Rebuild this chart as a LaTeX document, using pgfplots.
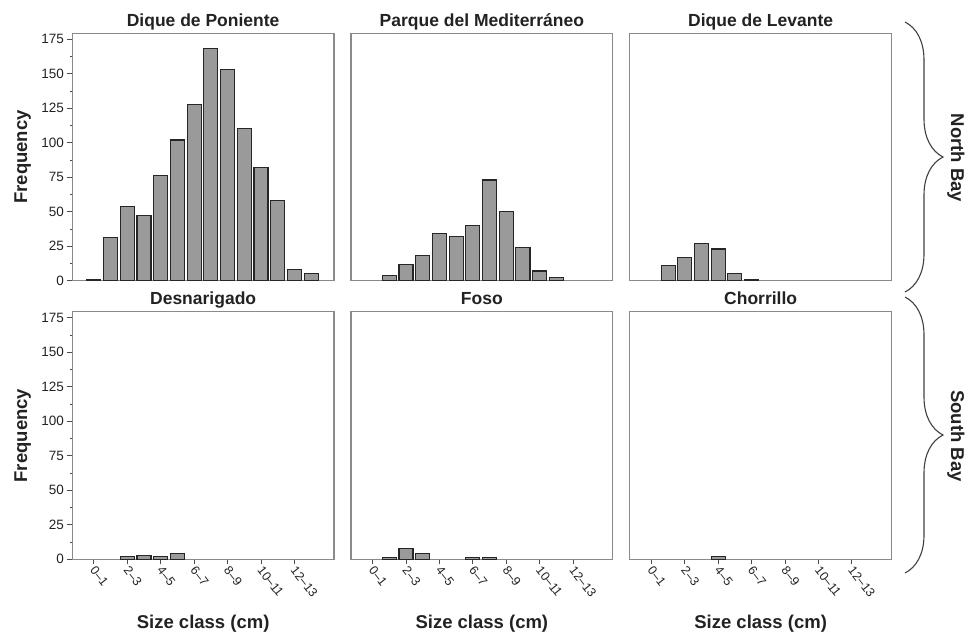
\documentclass[border=0pt]{standalone}
\usepackage{pgfplots}
\pgfplotsset{compat=1.18}
\usepackage{fontspec}
\setmainfont{Liberation Sans}
\usetikzlibrary{decorations.pathreplacing}
\definecolor{framegray}{HTML}{8A8A8A}
\definecolor{barfill}{HTML}{9A9A9A}
\definecolor{bardraw}{HTML}{262626}
\definecolor{txt}{HTML}{222222}
\pgfplotsset{
  panel/.style={
    scale only axis, width=261.7bp, height=247.4bp,
    xmin=-1.29, xmax=14.37, ymin=0, ymax=179.3,
    axis line style={draw=framegray, line width=1.1bp},
    tick pos=left, tick align=outside,
    major tick length=5bp, minor tick length=2.5bp,
    every tick/.style={draw=black!70, line width=0.9bp},
    ybar, bar width=0.84,
    /pgf/number format/assume math mode=true,
    title style={font=\bfseries\fontsize{17.5bp}{20bp}\selectfont, text=txt,
      at={(axis description cs:0.5,1)}, anchor=base, yshift=1bp},
    ylabel style={font=\bfseries\fontsize{18.5bp}{21bp}\selectfont, text=txt,
      at={(axis description cs:-0.19,0.5)}, anchor=center},
    xlabel style={font=\bfseries\fontsize{18.5bp}{21bp}\selectfont, text=txt,
      at={(axis description cs:0.5,-0.26)}, anchor=center},
    yticklabel style={font=\fontsize{13.5bp}{15bp}\selectfont, text=txt},
    xticklabel style={font=\fontsize{12.5bp}{14bp}\selectfont, text=txt,
      rotate=-52, anchor=west, xshift=-1bp, yshift=-3bp},
    xtick=\empty, ytick=\empty,
  },
  leftp/.style={ytick={0,25,...,175}, minor y tick num=1},
  bottomp/.style={xtick={0,2,...,12},
    xticklabels={0--1,2--3,4--5,6--7,8--9,10--11,12--13},
    xlabel={Size class (cm)}},
  bars/.style={fill=barfill, draw=bardraw, line width=1.1bp},
}
\begin{document}
\begin{tikzpicture}
\useasboundingbox (0,0) rectangle (968bp,-639bp);
% ---- North Bay ----
\begin{axis}[panel, leftp, at={(72.3bp,-280.7bp)}, anchor=south west,
  title={Dique de Poniente}, ylabel={Frequency}]
\addplot[bars] coordinates {(0,1) (1,31) (2,54) (3,47) (4,76) (5,102) (6,128)
  (7,168) (8,153) (9,110) (10,82) (11,58) (12,8) (13,5)};
\end{axis}
\begin{axis}[panel, at={(351bp,-280.7bp)}, anchor=south west,
  title={Parque del Mediterráneo}]
\addplot[bars] coordinates {(1,4) (2,12) (3,18) (4,34) (5,32) (6,40)
  (7,73) (8,50) (9,24) (10,7) (11,2)};
\end{axis}
\begin{axis}[panel, at={(629.8bp,-280.7bp)}, anchor=south west,
  title={Dique de Levante}]
\addplot[bars] coordinates {(1,11) (2,17) (3,27) (4,23) (5,5) (6,1)};
\end{axis}
% ---- South Bay ----
\begin{axis}[panel, leftp, bottomp, at={(72.3bp,-559.3bp)}, anchor=south west,
  title={Desnarigado}, ylabel={Frequency}]
\addplot[bars] coordinates {(2,2) (3,3) (4,2) (5,4)};
\end{axis}
\begin{axis}[panel, bottomp, at={(351bp,-559.3bp)}, anchor=south west,
  title={Foso}]
\addplot[bars] coordinates {(1,1) (2,8) (3,4) (6,1) (7,1)};
\end{axis}
\begin{axis}[panel, bottomp, at={(629.8bp,-559.3bp)}, anchor=south west,
  title={Chorrillo}]
\addplot[bars] coordinates {(4,2)};
\end{axis}
% ---- braces and bay labels ----
\draw[decorate, decoration={brace, amplitude=38bp}, line width=1.1bp, draw=black!75]
  (905bp,-22bp) -- (905bp,-292bp);
\draw[decorate, decoration={brace, amplitude=38bp}, line width=1.1bp, draw=black!75]
  (905bp,-297bp) -- (905bp,-573bp);
\node[rotate=-90, font=\bfseries\fontsize{18.5bp}{21bp}\selectfont, text=txt]
  at (956bp,-158bp) {North Bay};
\node[rotate=-90, font=\bfseries\fontsize{18.5bp}{21bp}\selectfont, text=txt]
  at (956bp,-436bp) {South Bay};
\end{tikzpicture}
\end{document}
